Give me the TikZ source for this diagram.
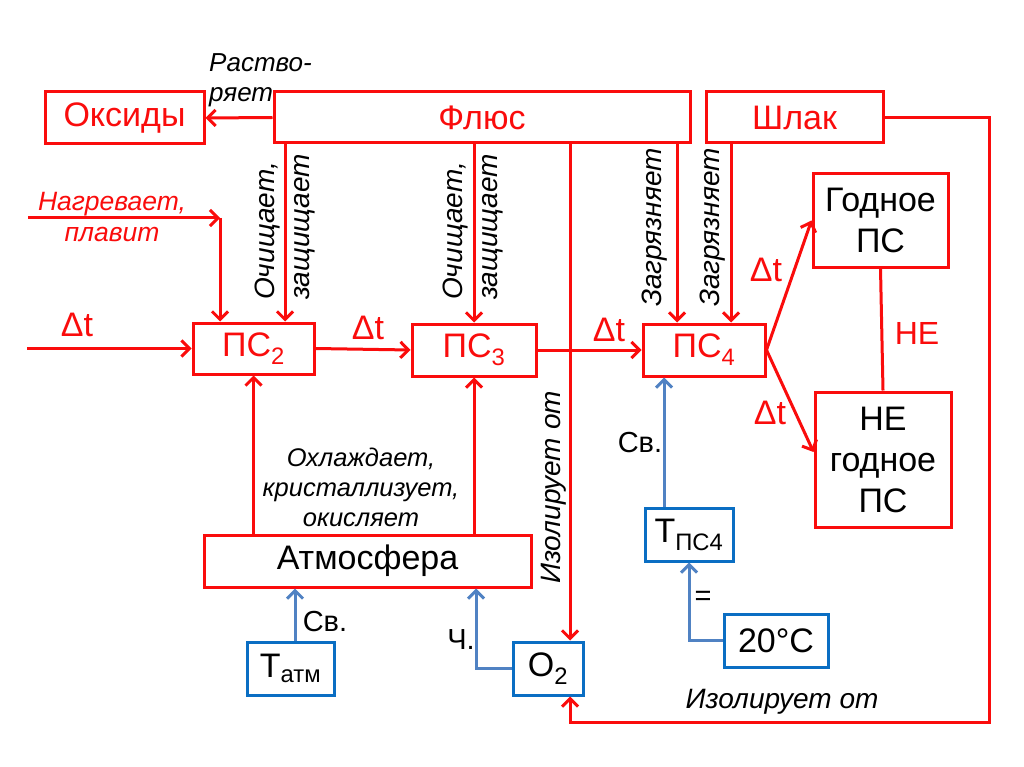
\documentclass[tikz,border=0pt]{standalone}
\usepackage{fontspec}
\setmainfont{Liberation Sans}
\usetikzlibrary{arrows.meta}
\definecolor{rd}{RGB}{250,12,12}
\definecolor{bl}{RGB}{10,110,195}
\definecolor{bla}{RGB}{80,130,195}
\newcommand\fbig{\fontsize{34}{41}\selectfont}
\newcommand\flab{\fontsize{25.5}{30}\selectfont\itshape}
\newcommand\frot{\fontsize{28}{35}\selectfont\itshape}
\newcommand\fsm{\fontsize{29}{32}\selectfont}
\begin{document}
\begin{tikzpicture}[x=1pt,y=-1pt,
  rbox/.style={draw=rd,line width=3pt,inner sep=0pt,text=rd,font=\fbig,align=center},
  kbox/.style={draw=rd,line width=3pt,inner sep=0pt,text=black,font=\fbig,align=center},
  bbox/.style={draw=bl,line width=3pt,inner sep=0pt,text=black,font=\fbig,align=center},
  arr/.style={draw=rd,line width=3pt,-{Straight Barb[length=8pt,width=16pt,line width=3pt]}},
  ln/.style={draw=rd,line width=3pt},
  barr/.style={draw=bla,line width=3pt,-{Straight Barb[length=8pt,width=16pt,line width=3pt]}},
  lab/.style={inner sep=0pt,font=\flab,text=black,align=center},
  rlab/.style={inner sep=0pt,font=\frot,text=black,align=left},
  dt/.style={inner sep=0pt,font=\fbig,text=rd},
  sm/.style={inner sep=0pt,font=\fsm,text=black}]
\useasboundingbox[fill=white] (0,0) rectangle (1024,767);
% boxes
\node[rbox,minimum width=159pt,minimum height=52pt] (oks) at (124.5,118) {Оксиды};
\node[rbox,minimum width=416pt,minimum height=51pt] (flux) at (482,117.5) {Флюс};
\node[rbox,minimum width=177pt,minimum height=51pt] (slag) at (794.5,117.5) {Шлак};
\node[rbox,minimum width=121pt,minimum height=51pt] (ps2) at (253.5,348.5) {ПС\textsubscript{2}};
\node[rbox,minimum width=124pt,minimum height=52pt] (ps3) at (474,350) {ПС\textsubscript{3}};
\node[rbox,minimum width=122pt,minimum height=52pt] (ps4) at (704,350) {ПС\textsubscript{4}};
\node[kbox,minimum width=135pt,minimum height=93pt] (good) at (880.5,220.5) {Годное\\ПС};
\node[kbox,minimum width=136pt,minimum height=135pt] (bad) at (883,459.5) {НЕ\\годное\\ПС};
\node[kbox,minimum width=327pt,minimum height=52pt] (atm) at (367.5,561) {Атмосфера};
\node[bbox,minimum width=87pt,minimum height=53pt] (tatm) at (290.5,668.5) {Т\textsubscript{атм}};
\node[bbox,minimum width=70pt,minimum height=53pt] (o2) at (548,668.5) {O\textsubscript{2}};
\node[bbox,minimum width=88pt,minimum height=53pt] (tps4) at (689,534.5) {Т\textsubscript{ПС4}};
\node[bbox,minimum width=104pt,minimum height=53pt] (t20) at (776,640.5) {20°C};
% helper coordinates
\coordinate (p2a) at ([xshift=31.5pt]ps2.north);
\coordinate (p4a) at ([xshift=-27pt]ps4.north);
\coordinate (p4b) at ([xshift=27pt]ps4.north);
\coordinate (o2a) at ([xshift=22pt]o2.north);
\coordinate (o2b) at ([xshift=22pt]o2.south);
\coordinate (heatL) at (28,218);
\coordinate (heatC) at (220,218);
\coordinate (dtL) at (27,348.5);
\coordinate (sr) at (989,118);
\coordinate (sb) at (989,722);
\coordinate (o2c) at (476,670);
\coordinate (tat) at ([xshift=4.5pt]tatm.north);
\coordinate (t4a) at ([xshift=-25pt]tps4.north);
% red connectors
\draw[arr] (flux.west) -- (oks.east);
\draw[arr] (flux.south -| p2a) -- (p2a);
\draw[arr] (flux.south -| ps3.north) -- (ps3.north);
\draw[arr] (flux.south -| p4a) -- (p4a);
\draw[arr] (slag.south -| p4b) -- (p4b);
\draw[arr] (heatL) -- (heatC);
\draw[arr] (heatC) -- (heatC |- ps2.north);
\draw[arr] (dtL) -- (ps2.west);
\draw[arr] (ps2.east) -- (ps3.west);
\draw[arr] (ps3.east) -- (ps4.west);
\draw[arr] (ps4.east) -- (good.west);
\draw[arr] (ps4.east) -- ([yshift=7.5pt]bad.west);
\draw[ln] (good.south) -- (bad.north);
\draw[arr] (atm.north -| ps2.south) -- (ps2.south);
\draw[arr] (atm.north -| ps3.south) -- (ps3.south);
\draw[arr] (flux.south -| o2a) -- (o2a);
\draw[arr] (slag.east) -- (slag.east -| sr) |- (o2b |- sb) -- (o2b);
% blue connectors
\draw[barr] (tat) -- (tat |- atm.south);
\draw[barr] (o2.west) -| (o2c |- atm.south);
\draw[barr] (t4a) -- (t4a |- ps4.south);
\draw[barr] (t20.west) -| (tps4.south);
% labels
\node[lab,align=left,anchor=west,font=\fontsize{26}{30}\selectfont\itshape] (lr) at (209,80) {Раство-\\ряет};
\node[lab,text=rd,font=\fontsize{26.5}{31}\selectfont\itshape] (lh) at (112,217.5) {Нагревает,\\плавит};
\node[rlab,rotate=90,anchor=west] (lo1) at (285.5,300) {Очищает,\\защищает};
\node[rlab,rotate=90,anchor=west] (lo2) at (473.5,300) {Очищает,\\защищает};
\node[rlab,rotate=90] (lz1) at (655,227.5) {Загрязняет};
\node[rlab,rotate=90] (lz2) at (713,227.5) {Загрязняет};
\node[rlab,rotate=90] (li1) at (554,487.5) {Изолирует от};
\node[rlab] (li2) at (782,702) {Изолирует от};
\node[lab] (lc) at (361,487) {Охлаждает,\\кристаллизует,\\окисляет};
\node[dt] (d1) at (77,325) {Δt};
\node[dt] (d2) at (368,328) {Δt};
\node[dt] (d3) at (609,330) {Δt};
\node[dt] (d4) at (766,270) {Δt};
\node[dt] (d5) at (770,413) {Δt};
\node[dt,font=\fontsize{32}{36}\selectfont] (ne) at (917,333) {НЕ};
\node[sm] (sv1) at (640,443) {Св.};
\node[sm] (sv2) at (325,622) {Св.};
\node[sm] (ch) at (461,640) {Ч.};
\node[sm] (eq) at (703,598) {=};
\end{tikzpicture}
\end{document}
